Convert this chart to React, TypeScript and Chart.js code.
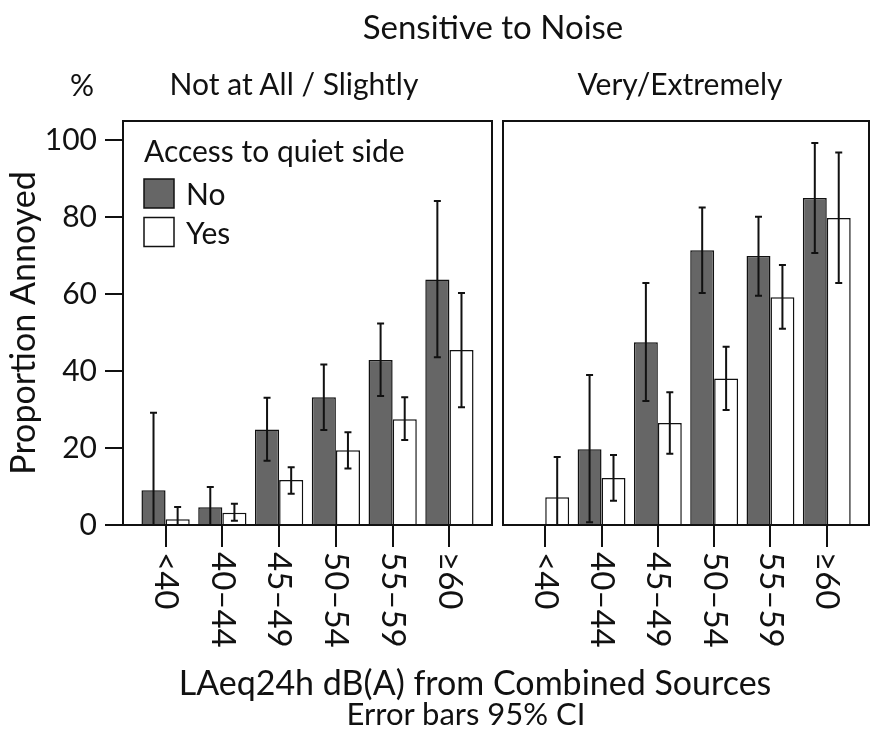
import React, { useEffect, useRef } from "react";
import { Chart, registerables } from "chart.js";
Chart.register(...registerables);

const FONT = "Lato, 'Open Sans', sans-serif";

const CATEGORIES = ["<40", "40–44", "45–49", "50–54", "55–59", "≥60"];
const SERIES = ["No", "Yes"];
const Y_TICKS = [0, 20, 40, 60, 80, 100];
const PANELS = ["Not at All / Slightly", "Very/Extremely"];

// Panel 1: Not at All / Slightly sensitive
const LOW_NO = [9.0, 4.6, 24.8, 33.2, 42.9, 63.8];
const LOW_NO_LO = [0, 0, 16.7, 24.7, 33.5, 43.6];
const LOW_NO_HI = [29.2, 9.9, 33.1, 41.7, 52.4, 84.2];
const LOW_YES = [1.5, 3.2, 11.7, 19.4, 27.5, 45.5];
const LOW_YES_LO = [0, 1.1, 8.1, 14.7, 22.1, 30.6];
const LOW_YES_HI = [4.7, 5.5, 15.0, 24.1, 33.2, 60.3];

// Panel 2: Very / Extremely sensitive
const HIGH_NO = [0, 19.7, 47.5, 71.4, 69.9, 85.0];
const HIGH_NO_LO = [null, 0.7, 32.2, 60.3, 59.6, 70.7];
const HIGH_NO_HI = [null, 39.0, 62.9, 82.5, 80.1, 99.3];
const HIGH_YES = [7.2, 12.2, 26.5, 38.1, 59.2, 79.8];
const HIGH_YES_LO = [0, 6.3, 18.5, 29.9, 51.0, 62.9];
const HIGH_YES_HI = [17.7, 18.2, 34.5, 46.3, 67.6, 96.8];

const NO_COLOR = "#666666";
const YES_COLOR = "#ffffff";
const INK = "#111111";

const errorBarPlugin = {
  id: "errorBars",
  afterDatasetsDraw(chart: any) {
    const { ctx } = chart;
    const y = chart.scales.y;
    chart.data.datasets.forEach((ds: any, di: number) => {
      const meta = chart.getDatasetMeta(di);
      meta.data.forEach((el: any, i: number) => {
        const lo = ds.errLo[i];
        const hi = ds.errHi[i];
        if (lo == null || hi == null) return;
        const x = el.x;
        const yl = y.getPixelForValue(lo);
        const yh = y.getPixelForValue(hi);
        ctx.save();
        ctx.strokeStyle = INK;
        ctx.lineWidth = 2;
        ctx.beginPath();
        ctx.moveTo(x, yl);
        ctx.lineTo(x, yh);
        ctx.moveTo(x - 3.5, yl);
        ctx.lineTo(x + 3.5, yl);
        ctx.moveTo(x - 3.5, yh);
        ctx.lineTo(x + 3.5, yh);
        ctx.stroke();
        ctx.restore();
      });
    });
  },
};

const framePlugin = {
  id: "frame",
  afterDatasetsDraw(chart: any) {
    const { ctx, chartArea: a } = chart;
    ctx.save();
    ctx.strokeStyle = INK;
    ctx.lineWidth = 2;
    ctx.strokeRect(a.left, a.top, a.right - a.left, a.bottom - a.top);
    ctx.restore();
  },
};

const xLabelPlugin = {
  id: "xLabels",
  afterDraw(chart: any) {
    const { ctx, chartArea: a } = chart;
    const x = chart.scales.x;
    ctx.save();
    ctx.fillStyle = INK;
    ctx.font = `33px ${FONT}`;
    ctx.textAlign = "left";
    ctx.textBaseline = "middle";
    CATEGORIES.forEach((lab, i) => {
      const px = x.getPixelForValue(i);
      ctx.save();
      ctx.translate(px, a.bottom + 27);
      ctx.rotate(Math.PI / 2);
      ctx.fillText(lab, 0, 0);
      ctx.restore();
    });
    ctx.restore();
  },
};

const legendPlugin = {
  id: "insideLegend",
  afterDraw(chart: any) {
    const { ctx, chartArea: a } = chart;
    const x0 = a.left + 21;
    ctx.save();
    ctx.fillStyle = INK;
    ctx.font = `30px ${FONT}`;
    ctx.textAlign = "left";
    ctx.textBaseline = "alphabetic";
    ctx.fillText("Access to quiet side", x0, a.top + 41);
    chart.data.datasets.forEach((ds: any, i: number) => {
      const top = a.top + 58 + i * 38.5;
      ctx.fillStyle = ds.backgroundColor;
      ctx.fillRect(x0, top, 30, 29);
      ctx.strokeStyle = INK;
      ctx.lineWidth = 1.5;
      ctx.strokeRect(x0, top, 30, 29);
      ctx.fillStyle = INK;
      ctx.fillText(ds.label, x0 + 42, top + 26);
    });
    ctx.restore();
  },
};

function makeConfig(
  no: number[],
  noLo: (number | null)[],
  noHi: (number | null)[],
  yes: number[],
  yesLo: (number | null)[],
  yesHi: (number | null)[],
  showY: boolean,
  withLegend: boolean,
  padding: any
): any {
  return {
    type: "bar",
    data: {
      datasets: [
        {
          label: SERIES[0],
          data: no.map((v, i) => ({ x: i, y: v })),
          backgroundColor: NO_COLOR,
          borderColor: INK,
          borderWidth: 1.5,
          errLo: noLo,
          errHi: noHi,
        },
        {
          label: SERIES[1],
          data: yes.map((v, i) => ({ x: i, y: v })),
          backgroundColor: YES_COLOR,
          borderColor: INK,
          borderWidth: 1.5,
          errLo: yesLo,
          errHi: yesHi,
        },
      ],
    },
    options: {
      animation: false,
      responsive: false,
      devicePixelRatio: 1,
      layout: { padding },
      categoryPercentage: 0.85,
      barPercentage: 1.0,
      plugins: { legend: { display: false }, tooltip: { enabled: false } },
      scales: {
        x: {
          type: "linear",
          min: -0.75,
          max: 5.75,
          offset: false,
          afterBuildTicks: (s: any) => {
            s.ticks = CATEGORIES.map((_, i) => ({ value: i }));
          },
          afterFit: (s: any) => {
            s.height = 206;
          },
          grid: {
            display: true,
            offset: false,
            drawOnChartArea: false,
            drawTicks: true,
            tickLength: 22,
            color: INK,
            lineWidth: 2,
          },
          border: { display: false },
          ticks: { display: false },
        },
        y: {
          display: showY,
          min: 0,
          max: 105,
          afterBuildTicks: (s: any) => {
            s.ticks = Y_TICKS.map((v) => ({ value: v }));
          },
          afterFit: (s: any) => {
            s.width = showY ? 123 : 0;
          },
          grid: {
            drawOnChartArea: false,
            drawTicks: true,
            tickLength: 18,
            color: INK,
            lineWidth: 2,
          },
          border: { display: false },
          ticks: {
            color: INK,
            font: { family: FONT, size: 30 },
            padding: 8,
          },
          title: {
            display: true,
            text: "Proportion Annoyed",
            color: INK,
            font: { family: FONT, size: 34 },
            padding: { top: 4, bottom: 0 },
          },
        },
      },
    },
    plugins: withLegend
      ? [errorBarPlugin, framePlugin, xLabelPlugin, legendPlugin]
      : [errorBarPlugin, framePlugin, xLabelPlugin],
  };
}

function Txt(props: { x: number; y: number; size: number; sx?: number; children: any }) {
  return (
    <div
      style={{
        position: "absolute",
        left: props.x,
        top: props.y,
        transform: `translate(-50%, -50%) scaleX(${props.sx ?? 1})`,
        fontSize: props.size,
        lineHeight: 1,
        whiteSpace: "nowrap",
        color: INK,
        fontFamily: FONT,
      }}
    >
      {props.children}
    </div>
  );
}

export default function App() {
  const leftRef = useRef<HTMLCanvasElement>(null);
  const rightRef = useRef<HTMLCanvasElement>(null);

  useEffect(() => {
    const c1 = new Chart(
      leftRef.current!,
      makeConfig(LOW_NO, LOW_NO_LO, LOW_NO_HI, LOW_YES, LOW_YES_LO, LOW_YES_HI, true, true, {
        left: 0,
        right: 5,
        top: 121,
        bottom: 0,
      })
    );
    const c2 = new Chart(
      rightRef.current!,
      makeConfig(HIGH_NO, HIGH_NO_LO, HIGH_NO_HI, HIGH_YES, HIGH_YES_LO, HIGH_YES_HI, false, false, {
        left: 6,
        right: 4,
        top: 121,
        bottom: 0,
      })
    );
    return () => {
      c1.destroy();
      c2.destroy();
    };
  }, []);

  return (
    <div
      style={{
        position: "absolute",
        left: 0,
        top: 0,
        width: 873,
        height: 731,
        background: "#fff",
        overflow: "hidden",
      }}
    >
      <canvas ref={leftRef} width={497} height={731} style={{ position: "absolute", left: 0, top: 0 }} />
      <canvas ref={rightRef} width={376} height={731} style={{ position: "absolute", left: 497, top: 0 }} />
      <Txt x={493} y={26} size={33}>Sensitive to Noise</Txt>
      <Txt x={82} y={84} size={30}>%</Txt>
      <Txt x={294} y={83} size={30}>{PANELS[0]}</Txt>
      <Txt x={680} y={83} size={30}>{PANELS[1]}</Txt>
      <Txt x={475} y={682} size={34}>LAeq24h dB(A) from Combined Sources</Txt>
      <Txt x={466} y={713} size={31}>Error bars 95% CI</Txt>
    </div>
  );
}
